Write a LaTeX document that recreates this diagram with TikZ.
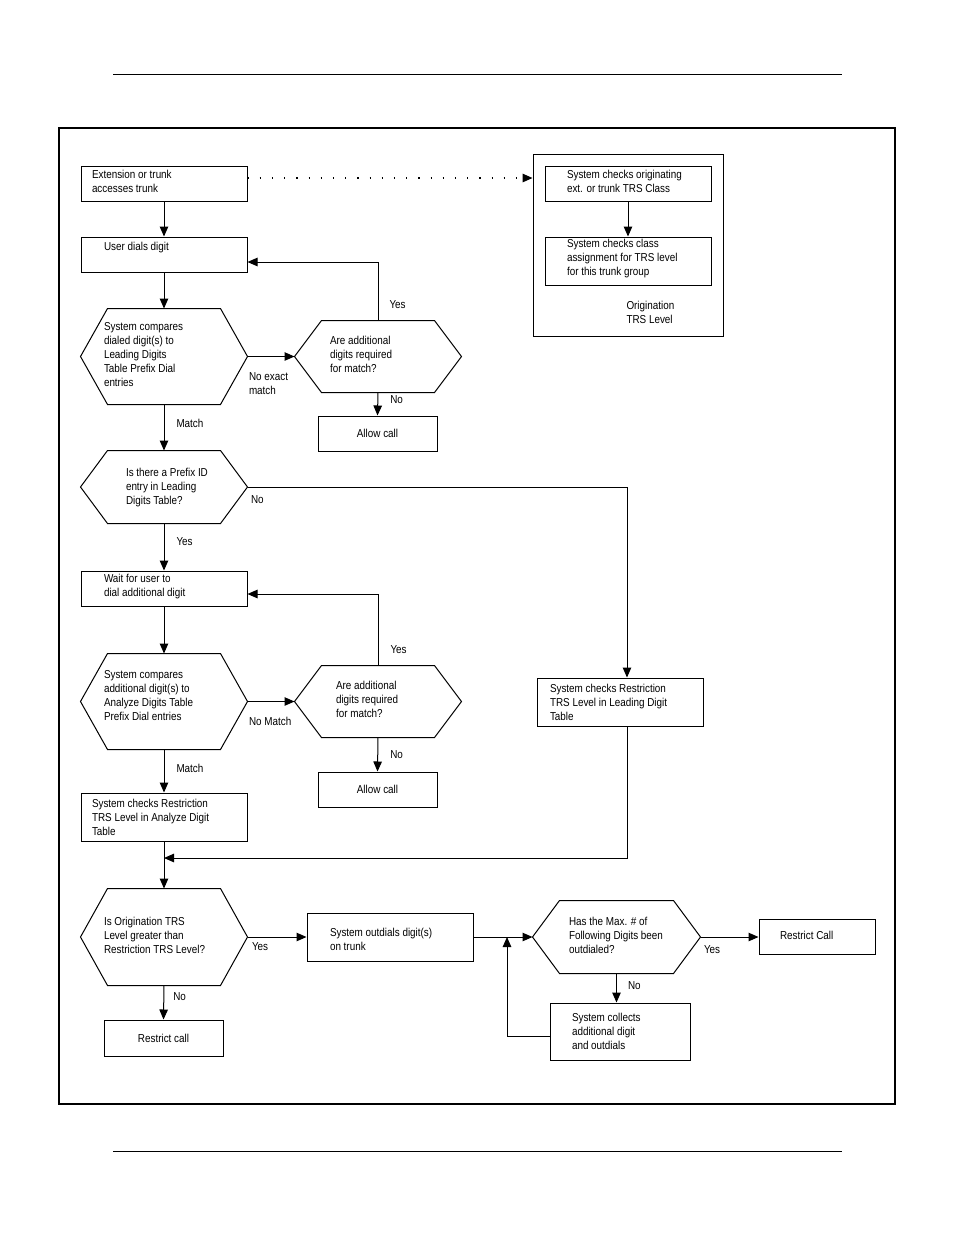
\documentclass[tikz,border=0pt]{standalone}
\usepackage{fontspec}
\setmainfont{Liberation Sans}[FakeStretch=0.86]
\usetikzlibrary{arrows.meta}
\newcommand\flowfont{\fontsize{11.5pt}{14pt}\selectfont}

\begin{document}
\begin{tikzpicture}[x=1pt, y=-1pt, line width=1pt,
    >={Triangle[length=10pt,width=8.5pt]},
    box/.style={draw, minimum width=#1, minimum height=35pt, inner sep=0pt, font=\flowfont},
    box/.default=166pt,
    hexa/.style={minimum width=166pt, minimum height=#1, inner sep=0pt},
    txt/.style={anchor=west, align=left, inner sep=0pt, font=\flowfont, yshift=2pt},
    lbl/.style={anchor=west, align=left, inner sep=0pt, font=\flowfont},
    dotarr/.style={->, line width=1.5pt, dash pattern=on 1.2pt off 11pt}]
  \useasboundingbox (0,0) rectangle (954,1235);
  % page rules and frame
  \draw[line width=0.8pt] (113,74) -- (842,74);
  \draw[line width=0.8pt] (113,1151) -- (842,1151);
  \draw[line width=1.5pt] (59,128) rectangle (895,1104);

  % left column
  \node[box, label={[txt,xshift=11pt]180:{Extension or trunk\\accesses trunk}}] (ext) at (164,183.5) {};
  \node[box, label={[txt,xshift=23pt,yshift=5pt]180:{User dials digit}}] (dial) at (164,254.5) {};
  \node[hexa=95pt, label={[txt,xshift=23pt]180:{System compares\\dialed digit(s) to\\Leading Digits\\Table Prefix Dial\\entries}}] (cmp1) at (164,356.5) {};
  \node[hexa=71pt, label={[txt,xshift=35pt]180:{Are additional\\digits required\\for match?}}] (add1) at (378,356.5) {};
  \node[box=119pt] (allow1) at (377.5,433.5) {Allow call};
  \node[hexa=72pt, label={[txt,xshift=45pt,yshift=-3pt]180:{Is there a Prefix ID\\entry in Leading\\Digits Table?}}] (prefix) at (164,487) {};
  \node[box, label={[txt,xshift=23pt]180:{Wait for user to\\dial additional digit}}] (wait) at (164,588.5) {};
  \node[hexa=95pt, label={[txt,xshift=23pt,yshift=4pt]180:{System compares\\additional digit(s) to\\Analyze Digits Table\\Prefix Dial entries}}] (cmp2) at (164,701.5) {};
  \node[hexa=71pt, label={[txt,xshift=41pt]180:{Are additional\\digits required\\for match?}}] (add2) at (378,701.5) {};
  \node[box=119pt] (allow2) at (377.5,789.5) {Allow call};
  \node[box, minimum height=48pt, label={[txt,xshift=11pt,yshift=-2pt]180:{System checks Restriction\\TRS Level in Analyze Digit\\Table}}] (chkA) at (164,817) {};
  \node[box, minimum height=48pt, label={[txt,xshift=13pt,yshift=-2pt]180:{System checks Restriction\\TRS Level in Leading Digit\\Table}}] (lead) at (620,702) {};
  \node[hexa=96pt, label={[txt,xshift=23pt]180:{Is Origination TRS\\Level greater than\\Restriction TRS Level?}}] (orig) at (164,937) {};
  \node[box=119pt, minimum height=36pt] (restr1) at (163.5,1038) {Restrict call};

  % bottom row
  \node[box, minimum height=48pt, label={[txt,xshift=23pt,yshift=-4pt]180:{System outdials digit(s)\\on trunk}}] (outd) at (390,937) {};
  \node[hexa=72pt, minimum width=167pt, label={[txt,xshift=36pt]180:{Has the Max. \# of\\Following Digits been\\outdialed?}}] (maxh) at (616.5,937) {};
  \node[box=116pt, label={[txt,xshift=21pt]180:{Restrict Call}}] (restr2) at (817,937) {};
  \node[box=140pt, minimum height=57pt, label={[txt,xshift=22pt,yshift=-2pt]180:{System collects\\additional digit\\and outdials}}] (collect) at (620,1031.5) {};

  % origination group
  \node[box=190pt, minimum height=182pt] (group) at (628,245) {};
  \node[box, label={[txt,xshift=22pt]180:{System checks originating\\ext. or trunk TRS Class}}] (orgA) at (628,183.5) {};
  \node[box, minimum height=48pt, label={[txt,xshift=22pt]180:{System checks class\\assignment for TRS level\\for this trunk group}}] (orgB) at (628,261) {};
  \node[lbl] (orgL) at (626,312) {Origination\\TRS Level};

  % hexagon outlines
  \foreach \h in {cmp1,add1,prefix,cmp2,add2,orig,maxh}
    \draw (\h.west) -- ([shift={(27,0)}]\h.north west) -- ([shift={(-27,0)}]\h.north east)
      -- (\h.east) -- ([shift={(-27,0)}]\h.south east) -- ([shift={(27,0)}]\h.south west) -- cycle;

  \coordinate (join) at (164,858);
  \coordinate (back) at (507,937);

  % connectors
  \draw[dotarr] ([yshift=5.5pt]ext.east) -- ([yshift=5.5pt]ext.east -| group.west);
  \draw[->] (orgA.south) -- (orgB.north);
  \draw[->] (ext.south) -- (dial.north);
  \draw[->] (dial.south) -- (cmp1.north);
  \draw[->] (cmp1.east) -- node[lbl, pos=0, xshift=1pt, yshift=-27pt] {No exact\\match} (add1.west);
  \draw[->] (add1.north) |- node[lbl, pos=0.135, xshift=11pt] {Yes} ([yshift=-7.5pt]dial.east);
  \draw[->] (add1.south) -- node[lbl, pos=0.33, xshift=12pt] {No} (allow1.north);
  \draw[->] (cmp1.south) -- node[lbl, pos=0.4, xshift=12pt] {Match} (prefix.north);
  \draw[->] (prefix.east) -| node[lbl, pos=0, xshift=3pt, yshift=-13pt] {No} ([xshift=7pt]lead.north);
  \draw[->] (prefix.south) -- node[lbl, pos=0.375, xshift=12pt] {Yes} (wait.north);
  \draw[->] (wait.south) -- (cmp2.north);
  \draw[->] (cmp2.east) -- node[lbl, pos=0, xshift=1pt, yshift=-19.5pt] {No Match} (add2.west);
  \draw[->] (add2.north) |- node[lbl, pos=0.11, xshift=12pt] {Yes} ([yshift=-5.5pt]wait.east);
  \draw[->] (add2.south) -- node[lbl, pos=0.5, xshift=12pt] {No} (allow2.north);
  \draw[->] (cmp2.south) -- node[lbl, pos=0.45, xshift=12pt] {Match} (chkA.north);
  \draw[->] ([xshift=7pt]lead.south) |- (join);
  \draw[->] (chkA.south) -- (orig.north);
  \draw[->] (orig.east) -- node[lbl, pos=0, xshift=4pt, yshift=-10pt] {Yes} (outd.west);
  \draw[->] (orig.south) -- node[lbl, pos=0.34, xshift=9pt] {No} (restr1.north);
  \draw[->] (outd.east) -- (maxh.west);
  \draw[->] (maxh.east) -- node[lbl, pos=0, xshift=3pt, yshift=-13pt] {Yes} (restr2.west);
  \draw[->] (maxh.south) -- node[lbl, pos=0.43, xshift=11pt] {No} (maxh.south |- collect.north);
  \draw[->] ([yshift=-4.5pt]collect.west) -| (back);
\end{tikzpicture}
\end{document}
